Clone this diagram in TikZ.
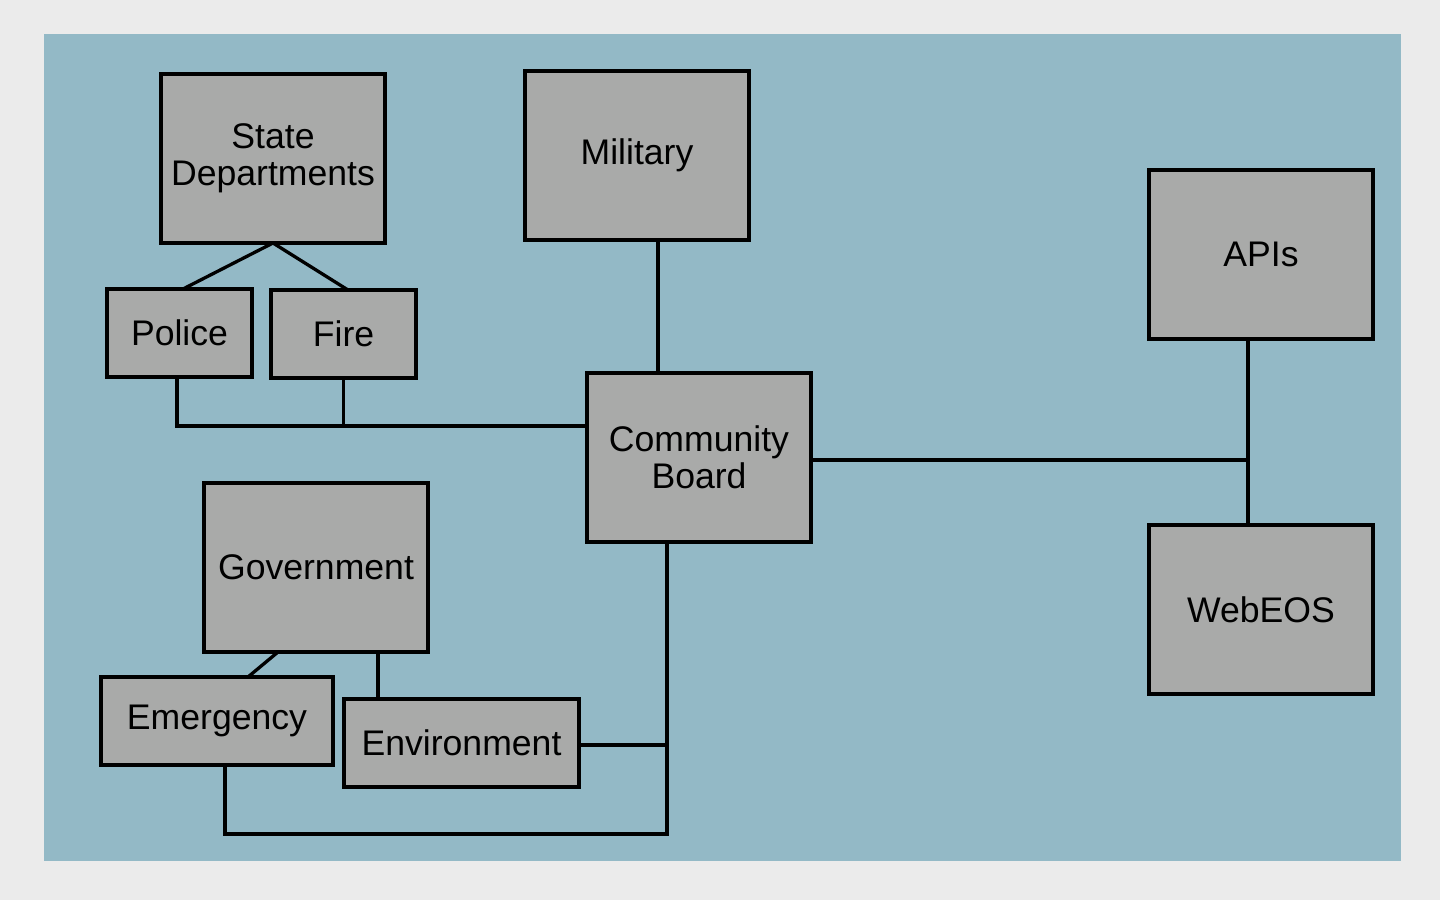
\documentclass[tikz,border=0pt]{standalone}
\usepackage{fontspec}
\setmainfont{Liberation Sans}
\definecolor{outerbg}{HTML}{EBEBEB}
\definecolor{panelbg}{HTML}{93B9C6}
\definecolor{boxgray}{HTML}{A9AAA9}
\tikzset{
  unit/.style={draw=black, fill=boxgray, line width=3.3pt, rectangle, outer sep=0pt,
    inner sep=0pt, align=center, font=\fontsize{35.6}{37}\selectfont},
  bigunit/.style={unit, minimum width=224pt, minimum height=169pt},
  wire/.style={line width=3.3pt}
}
\begin{document}
\begin{tikzpicture}[x=1pt,y=-1pt]
\fill[outerbg] (0,0) rectangle (1440,900);
\fill[panelbg] (44,34) rectangle (1401,861);
\useasboundingbox (0,0) rectangle (1440,900);

\node[bigunit] (statedep) at (273,158.5) {State\\Departments};
\node[bigunit] (military) at (637,155.5) {Military};
\node[bigunit] (apis) at (1261,254.5) {APIs};
\node[unit, minimum width=145pt, minimum height=88pt] (police) at (179.5,333) {Police};
\node[unit, minimum width=145pt, minimum height=88pt] (fire) at (343.5,334) {Fire};
\node[bigunit] (board) at (699,457.5) {Community\\Board};
\node[bigunit] (gov) at (316,567.5) {Government};
\node[unit, minimum width=232pt, minimum height=88pt] (emerg) at (217,721) {Emergency};
\node[unit, minimum width=235pt, minimum height=88pt] (envir) at (461.5,743) {Environment};
\node[bigunit] (webeos) at (1261,609.5) {WebEOS};

\coordinate (leftbus) at ([yshift=31.5pt]board.west);
\coordinate (rightbus) at ([xshift=-13pt]apis.south);
\coordinate (lowbus) at ([xshift=-32pt]board.south);

\draw[wire] (statedep.south) -- ([xshift=3.5pt]police.north);
\draw[wire] (statedep.south) -- ([xshift=4.5pt]fire.north);
\draw[wire] ([xshift=21pt]military.south) -- ([xshift=21pt]military.south |- board.north);
\draw[wire] ([xshift=-2.5pt]police.south) |- (leftbus);
\draw[wire] (fire.south) -- (fire.south |- leftbus);
\draw[wire] ([yshift=-2.5pt]board.east) -- ([yshift=-2.5pt]board.east -| rightbus);
\draw[wire] (rightbus) -- ([xshift=-13pt]webeos.north);
\draw[wire] (lowbus) -- ++(0,292) -| ([xshift=8pt]emerg.south);
\draw[wire] ([yshift=-2pt]envir.east) -- ([yshift=-2pt]envir.east -| lowbus);
\draw[wire] ([xshift=-38pt]gov.south) -- ([xshift=31pt]emerg.north);
\draw[wire] ([xshift=62pt]gov.south) -- ([xshift=-83.5pt]envir.north);

\end{tikzpicture}
\end{document}
